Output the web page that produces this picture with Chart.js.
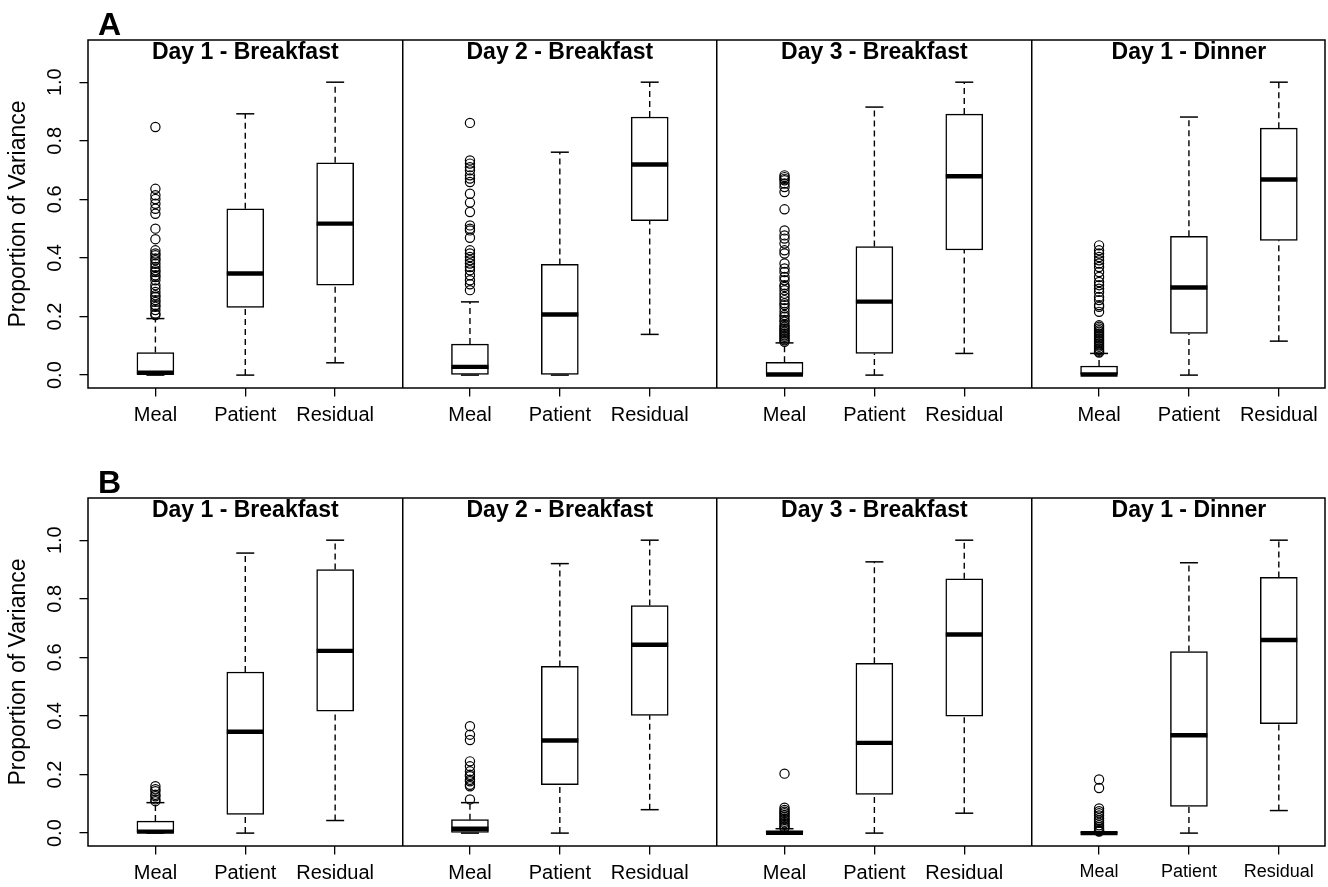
<!DOCTYPE html>
<html>
<head>
<meta charset="utf-8">
<title>Proportion of Variance by component</title>
<script src="https://cdn.jsdelivr.net/npm/chart.js@4/dist/chart.umd.min.js"></script>
<style>
  html, body { margin: 0; padding: 0; background: #fff; }
  #wrap { position: relative; width: 1328px; height: 887px; }
  #wrap canvas { position: absolute; left: 0; }
</style>
</head>
<body>
<div id="wrap">
  <canvas id="rowA" width="1328" height="443" style="top:0"></canvas>
  <canvas id="rowB" width="1328" height="444" style="top:443px"></canvas>
</div>
<script>
// ---- Categories and tick labels ----
const panelTitles = ['Day 1 - Breakfast', 'Day 2 - Breakfast', 'Day 3 - Breakfast', 'Day 1 - Dinner'];
const components = ['Meal', 'Patient', 'Residual'];
const yTickValues = [0, 0.2, 0.4, 0.6, 0.8, 1.0];

// ---- Row A: box statistics, panel by panel (Meal, Patient, Residual) ----
const aLowerWhisker  = [0, 0, 0.042,      0, 0, 0.139,      0, 0, 0.074,      0, 0, 0.116];
const aLowerQuartile = [0, 0.231, 0.307,  0, 0, 0.527,      0, 0.074, 0.427,  0, 0.142, 0.460];
const aMedian        = [0.008, 0.347, 0.517, 0.028, 0.207, 0.719, 0.002, 0.251, 0.679, 0.002, 0.299, 0.668];
const aUpperQuartile = [0.077, 0.568, 0.725, 0.106, 0.378, 0.881, 0.044, 0.439, 0.891, 0.031, 0.474, 0.843];
const aUpperWhisker  = [0.193, 0.892, 1.0,   0.25, 0.761, 1.0,   0.110, 0.915, 1.0,   0.074, 0.881, 1.0];
// Meal outliers per panel
const aMealOutliers = [
  [0.847, 0.636, 0.614, 0.601, 0.585, 0.568, 0.551, 0.500, 0.464, 0.426, 0.415, 0.409, 0.398, 0.392, 0.380,
   0.369, 0.358, 0.352, 0.341, 0.335, 0.324, 0.307, 0.296, 0.284, 0.273, 0.267, 0.256, 0.250, 0.239, 0.233,
   0.222, 0.210, 0.205],
  [0.861, 0.733, 0.722, 0.710, 0.699, 0.682, 0.671, 0.659, 0.619, 0.589, 0.557, 0.511, 0.500, 0.494, 0.469,
   0.426, 0.415, 0.403, 0.392, 0.381, 0.369, 0.358, 0.341, 0.324, 0.310, 0.290],
  [0.682, 0.676, 0.670, 0.665, 0.654, 0.642, 0.625, 0.566, 0.494, 0.477, 0.466, 0.449, 0.426, 0.415, 0.381,
   0.364, 0.352, 0.335, 0.324, 0.307, 0.301, 0.290, 0.278, 0.267, 0.256, 0.245, 0.239, 0.228, 0.216, 0.205,
   0.199, 0.188, 0.182, 0.171, 0.165, 0.159, 0.153, 0.148, 0.142, 0.136, 0.131, 0.125, 0.119, 0.114],
  [0.443, 0.426, 0.415, 0.403, 0.392, 0.381, 0.369, 0.352, 0.335, 0.318, 0.307, 0.295, 0.284, 0.267, 0.256,
   0.239, 0.233, 0.216, 0.170, 0.165, 0.159, 0.153, 0.148, 0.142, 0.136, 0.131, 0.125, 0.119, 0.114, 0.108,
   0.102, 0.097, 0.091, 0.085, 0.080, 0.077]
];

// ---- Row B: box statistics ----
const bLowerWhisker  = [0, 0, 0.043,      0, 0, 0.080,      0, 0, 0.068,      0, 0, 0.077];
const bLowerQuartile = [0, 0.064, 0.416,  0, 0.165, 0.402,  0, 0.132, 0.399,  0, 0.091, 0.374];
const bMedian        = [0.005, 0.346, 0.622, 0.015, 0.316, 0.643, 0.001, 0.308, 0.678, 0.0, 0.334, 0.659];
const bUpperQuartile = [0.041, 0.550, 0.900, 0.046, 0.569, 0.777, 0.007, 0.580, 0.868, 0.003, 0.620, 0.873];
const bUpperWhisker  = [0.104, 0.956, 1.0,   0.104, 0.920, 1.0,   0.015, 0.926, 1.0,   0.004, 0.923, 1.0];
const bMealOutliers = [
  [0.160, 0.150, 0.143, 0.131, 0.126, 0.115, 0.109],
  [0.365, 0.336, 0.318, 0.245, 0.228, 0.211, 0.199, 0.194, 0.182, 0.177, 0.165, 0.160, 0.115],
  [0.203, 0.087, 0.079, 0.073, 0.068, 0.062, 0.056, 0.050, 0.045, 0.039, 0.034, 0.028, 0.022, 0.018],
  [0.183, 0.154, 0.084, 0.075, 0.068, 0.060, 0.051, 0.043, 0.035, 0.027, 0.020, 0.014, 0.010, 0.007, 0.005]
];

// ---- Axis geometry (in x-scale units: each panel spans 3.5 units) ----
const PANEL_SPAN = 3.5;
const FIRST_SLOT = 0.75;
const X_MAX = 13.764;
const Y_MIN = -0.044;
const Y_MAX = 1.144;
const FONT = "'Liberation Sans', Arial, Helvetica, sans-serif";

Chart.defaults.font.family = FONT;
Chart.defaults.color = '#000';

function slotX(i) {
  return Math.floor(i / 3) * PANEL_SPAN + FIRST_SLOT + (i % 3);
}

// Frame, panel titles and row letter
const panelText = {
  id: 'panelText',
  afterDatasetsDraw(chart, args, opts) {
    const { ctx, chartArea: a, scales: { x } } = chart;
    ctx.save();
    ctx.strokeStyle = '#000';
    ctx.lineWidth = 1.5;
    ctx.strokeRect(a.left, a.top, a.right - a.left, a.bottom - a.top);
    ctx.fillStyle = '#000';
    ctx.font = 'bold 23px ' + FONT;
    ctx.textAlign = 'center';
    ctx.textBaseline = 'middle';
    opts.titles.forEach((t, p) => ctx.fillText(t, x.getPixelForValue(slotX(p * 3 + 1)), a.top + 13));
    ctx.font = 'bold 32px ' + FONT;
    ctx.textAlign = 'left';
    ctx.textBaseline = 'alphabetic';
    ctx.fillText(opts.letter, a.left + 10, a.top - 5);
    ctx.restore();
  }
};

function buildRow(canvasId, letter, s, layout) {
  const boxes = [], medians = [], staples = [], whiskers = [], outliers = [];
  for (let i = 0; i < s.median.length; i++) {
    const x = slotX(i);
    boxes.push({ x, y: [s.q1[i], s.q3[i]] });
    medians.push({ x, y: s.median[i] });
    staples.push({ x, y: s.lo[i] }, { x, y: s.hi[i] });
    whiskers.push({ x, y: s.lo[i] }, { x, y: s.q1[i] }, { x, y: null },
                  { x, y: s.q3[i] }, { x, y: s.hi[i] }, { x, y: null });
  }
  s.outliers.forEach((vals, p) => vals.forEach(v => outliers.push({ x: slotX(p * 3), y: v })));

  const slots = s.median.map((_, i) => slotX(i));
  const panelEdges = [1, 2, 3].map(p => p * PANEL_SPAN);

  return new Chart(document.getElementById(canvasId), {
    type: 'scatter',
    data: {
      datasets: [
        { type: 'scatter', label: 'Outliers', data: outliers, order: 0,
          pointStyle: 'circle', pointRadius: 4.6, pointBorderWidth: 1.2,
          pointBorderColor: '#000', pointBackgroundColor: 'rgba(0,0,0,0)' },
        { type: 'scatter', label: 'Median', data: medians, order: 1,
          pointStyle: 'line', pointRadius: 18.5, pointBorderWidth: 4.4, pointBorderColor: '#000' },
        { type: 'scatter', label: 'Whisker ends', data: staples, order: 2,
          pointStyle: 'line', pointRadius: 9, pointBorderWidth: 1.5, pointBorderColor: '#000' },
        { type: 'bar', label: 'Interquartile range', data: boxes, order: 3,
          barThickness: 37, grouped: false, backgroundColor: '#fff',
          borderColor: '#000', borderWidth: 1.5, borderSkipped: false },
        { type: 'scatter', label: 'Whiskers', data: whiskers, order: 4,
          showLine: true, spanGaps: false, borderColor: '#000', borderWidth: 1.4,
          borderDash: [6, 4], pointRadius: 0 }
      ]
    },
    options: {
      responsive: false,
      devicePixelRatio: 1,
      animation: false,
      events: [],
      layout: { autoPadding: false, padding: { top: layout.top, right: 3, bottom: 0, left: 0 } },
      plugins: {
        legend: { display: false },
        tooltip: { enabled: false },
        panelText: { letter, titles: panelTitles }
      },
      scales: {
        x: {
          type: 'linear', position: 'bottom', min: 0, max: X_MAX, offset: false,
          afterBuildTicks: sc => { sc.ticks = slots.map(v => ({ value: v })); },
          afterFit: sc => { sc.height = layout.xAxisHeight; sc.paddingLeft = 0; sc.paddingRight = 0; },
          ticks: {
            autoSkip: false, maxRotation: 0, minRotation: 0, padding: 7, color: '#000',
            callback: (v, i) => components[i % 3],
            font: ctx => ({ family: FONT, size: (layout.smallLast && ctx.index >= 9) ? 18 : 20 })
          },
          grid: { offset: false, drawOnChartArea: false, drawTicks: true, tickLength: 8.5, color: '#000', lineWidth: 1.3 },
          border: { display: false }
        },
        xDiv: {
          type: 'linear', position: 'top', min: 0, max: X_MAX, offset: false,
          afterBuildTicks: sc => { sc.ticks = panelEdges.map(v => ({ value: v })); },
          afterFit: sc => { sc.height = 0; sc.paddingLeft = 0; sc.paddingRight = 0; },
          ticks: { display: false },
          grid: { offset: false, drawOnChartArea: true, drawTicks: false, color: '#000', lineWidth: 1.5 },
          border: { display: false }
        },
        y: {
          type: 'linear', position: 'left', min: Y_MIN, max: Y_MAX,
          afterBuildTicks: sc => { sc.ticks = yTickValues.map(v => ({ value: v })); },
          afterFit: sc => { sc.width = 88; },
          ticks: {
            minRotation: 90, maxRotation: 90, crossAlign: 'center', padding: 10, color: '#000',
            font: { size: 20 },
            callback: v => Number(v).toFixed(1)
          },
          grid: { drawOnChartArea: false, drawTicks: true, tickLength: 8.5, color: '#000', lineWidth: 1.3 },
          border: { display: false },
          title: {
            display: true, text: 'Proportion of Variance', color: '#000',
            font: { size: 23 }, padding: { top: 5, bottom: 0 }
          }
        }
      }
    },
    plugins: [panelText]
  });
}

buildRow('rowA', 'A', {
  lo: aLowerWhisker, q1: aLowerQuartile, median: aMedian, q3: aUpperQuartile, hi: aUpperWhisker,
  outliers: aMealOutliers
}, { top: 40, xAxisHeight: 55, smallLast: false });

buildRow('rowB', 'B', {
  lo: bLowerWhisker, q1: bLowerQuartile, median: bMedian, q3: bUpperQuartile, hi: bUpperWhisker,
  outliers: bMealOutliers
}, { top: 55, xAxisHeight: 41, smallLast: true });
</script>
</body>
</html>
